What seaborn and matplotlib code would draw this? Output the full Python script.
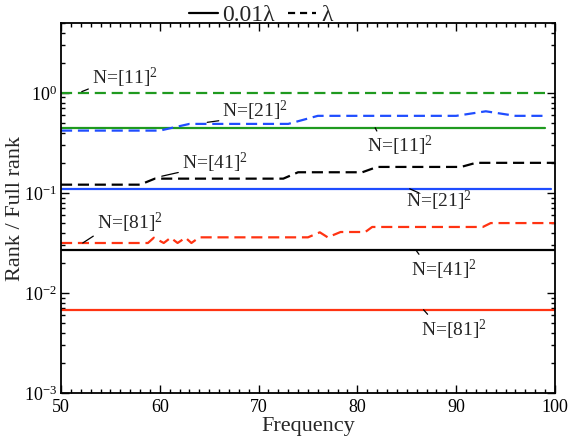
import numpy as np
import pandas as pd
import matplotlib
matplotlib.use("Agg")
import matplotlib.pyplot as plt
import seaborn as sns
from matplotlib.lines import Line2D
from matplotlib.ticker import MultipleLocator, LogLocator

# ---- data ----
# solid lines (0.01 lambda): constant rank ratio
solid_freq_11 = [50, 99]
solid_11 = [0.448, 0.448]
solid_freq_21 = [50, 99.6]
solid_21 = [0.11, 0.11]
solid_freq_41 = [50, 100]
solid_41 = [0.0271, 0.0271]
solid_freq_81 = [50, 100]
solid_81 = [0.0068, 0.0068]

# dashed lines (lambda)
dash_freq_11 = [50, 99]
dash_11 = [1.0, 1.0]
dash_freq_21 = [50, 60, 63, 73, 76, 90, 93, 96, 99]
dash_21 = [0.42, 0.42, 0.49, 0.49, 0.59, 0.59, 0.655, 0.59, 0.59]
dash_freq_41 = [50, 58, 59.5, 72.5, 74, 80.5, 82, 90.5, 92, 100]
dash_41 = [0.121, 0.121, 0.139, 0.139, 0.161, 0.161, 0.182, 0.182, 0.2, 0.2]
dash_freq_81 = [50, 58.8, 59.4, 60.4, 61.1, 61.8, 62.6, 63.2, 64, 75, 76.2,
                77, 78.3, 80.8, 81.5, 92.7, 93.5, 100]
dash_81 = [0.0316, 0.0316, 0.0357, 0.0316, 0.0357, 0.0316, 0.0357, 0.0316,
           0.036, 0.036, 0.0404, 0.036, 0.0407, 0.0407, 0.0457, 0.0457,
           0.05, 0.05]

grids = ["11", "21", "41", "81"]
colors = {"11": "#1f9a1f", "21": "#1f4dff", "41": "#000000", "81": "#ff3312"}

# labels: text, point on the line, text position
label_text = [r"N=[11]$^2$", r"N=[21]$^2$", r"N=[41]$^2$", r"N=[81]$^2$",
              r"N=[11]$^2$", r"N=[21]$^2$", r"N=[41]$^2$", r"N=[81]$^2$"]
label_xy = [(52.1, 1.03), (64.8, 0.508), (60.2, 0.147), (52.2, 0.0316),
            (81.8, 0.448), (85.3, 0.11), (85.9, 0.0271), (86.7, 0.0068)]
label_xytext = [(53.1, 1.42), (66.3, 0.655), (62.2, 0.202), (53.6, 0.0501),
                (81.0, 0.292), (84.9, 0.0824), (85.4, 0.0171), (86.4, 0.0043)]
label_upper = [True, True, True, True, False, False, False, False]

# ---- long table for seaborn ----
rows = []
solid = {"11": (solid_freq_11, solid_11), "21": (solid_freq_21, solid_21),
         "41": (solid_freq_41, solid_41), "81": (solid_freq_81, solid_81)}
dashed = {"11": (dash_freq_11, dash_11), "21": (dash_freq_21, dash_21),
          "41": (dash_freq_41, dash_41), "81": (dash_freq_81, dash_81)}
for g in grids:
    for f, v in zip(*solid[g]):
        rows.append({"freq": f, "ratio": v, "grid": g, "h": "0.01λ"})
    for f, v in zip(*dashed[g]):
        rows.append({"freq": f, "ratio": v, "grid": g, "h": "λ"})
df = pd.DataFrame(rows)

sns.set_theme(style="ticks")
plt.rcParams["font.family"] = ["Liberation Serif", "DejaVu Serif"]
plt.rcParams["mathtext.fontset"] = "custom"
plt.rcParams["mathtext.rm"] = "Liberation Serif"
plt.rcParams["mathtext.it"] = "Liberation Serif:italic"

fig = plt.figure(figsize=(5.68, 4.38), dpi=100)
ax = fig.add_axes([0.1074, 0.1027, 0.977 - 0.1074, 0.9475 - 0.1027])

sns.lineplot(data=df, x="freq", y="ratio", hue="grid", style="h",
             palette=colors, dashes={"0.01λ": "", "λ": (5, 2.6)},
             estimator=None, sort=False, linewidth=1.6, legend=False, ax=ax)

ax.set_yscale("log")
ax.set_xlim(50, 100)
ax.set_ylim(1e-3, 5)
ax.xaxis.set_major_locator(MultipleLocator(10))
ax.xaxis.set_minor_locator(MultipleLocator(1))
ax.yaxis.set_major_locator(LogLocator(base=10, numticks=10))
ax.yaxis.set_minor_locator(LogLocator(base=10, subs=np.arange(2, 10), numticks=20))
ax.tick_params(which="both", direction="in", top=True, right=True,
               width=1.0, labelsize=13, colors="black")
ax.tick_params(which="major", length=6)
ax.tick_params(which="minor", length=3)
ax.tick_params(axis="x", which="major", pad=4)
ax.tick_params(axis="y", which="major", pad=3)
for s in ax.spines.values():
    s.set_linewidth(1.3)
    s.set_color("black")

ax.set_xlabel("Frequency", fontsize=16, labelpad=1)
ax.set_ylabel("Rank / Full rank", fontsize=16, labelpad=-1)

for t, xy, xyt, up in zip(label_text, label_xy, label_xytext, label_upper):
    ax.annotate(t, xy=xy, xytext=xyt, fontsize=14, ha="left", va="center",
                arrowprops=dict(arrowstyle="-", color="black", lw=0.9,
                                shrinkA=0, shrinkB=0,
                                relpos=(0.06, 0.15) if up else (0.2, 0.85)))

handles = [Line2D([], [], color="black", lw=1.6, ls="-"),
           Line2D([], [], color="black", lw=1.6, dashes=(3.2, 2.2))]
ax.legend(handles, ["0.01λ", "λ"], loc="lower center",
          bbox_to_anchor=(0.405, 0.985), ncol=2, frameon=False, fontsize=17,
          handlelength=1.2, handletextpad=0.2, columnspacing=0.55,
          borderpad=0.1, borderaxespad=0.0)

fig.savefig("out.png", dpi=100)
